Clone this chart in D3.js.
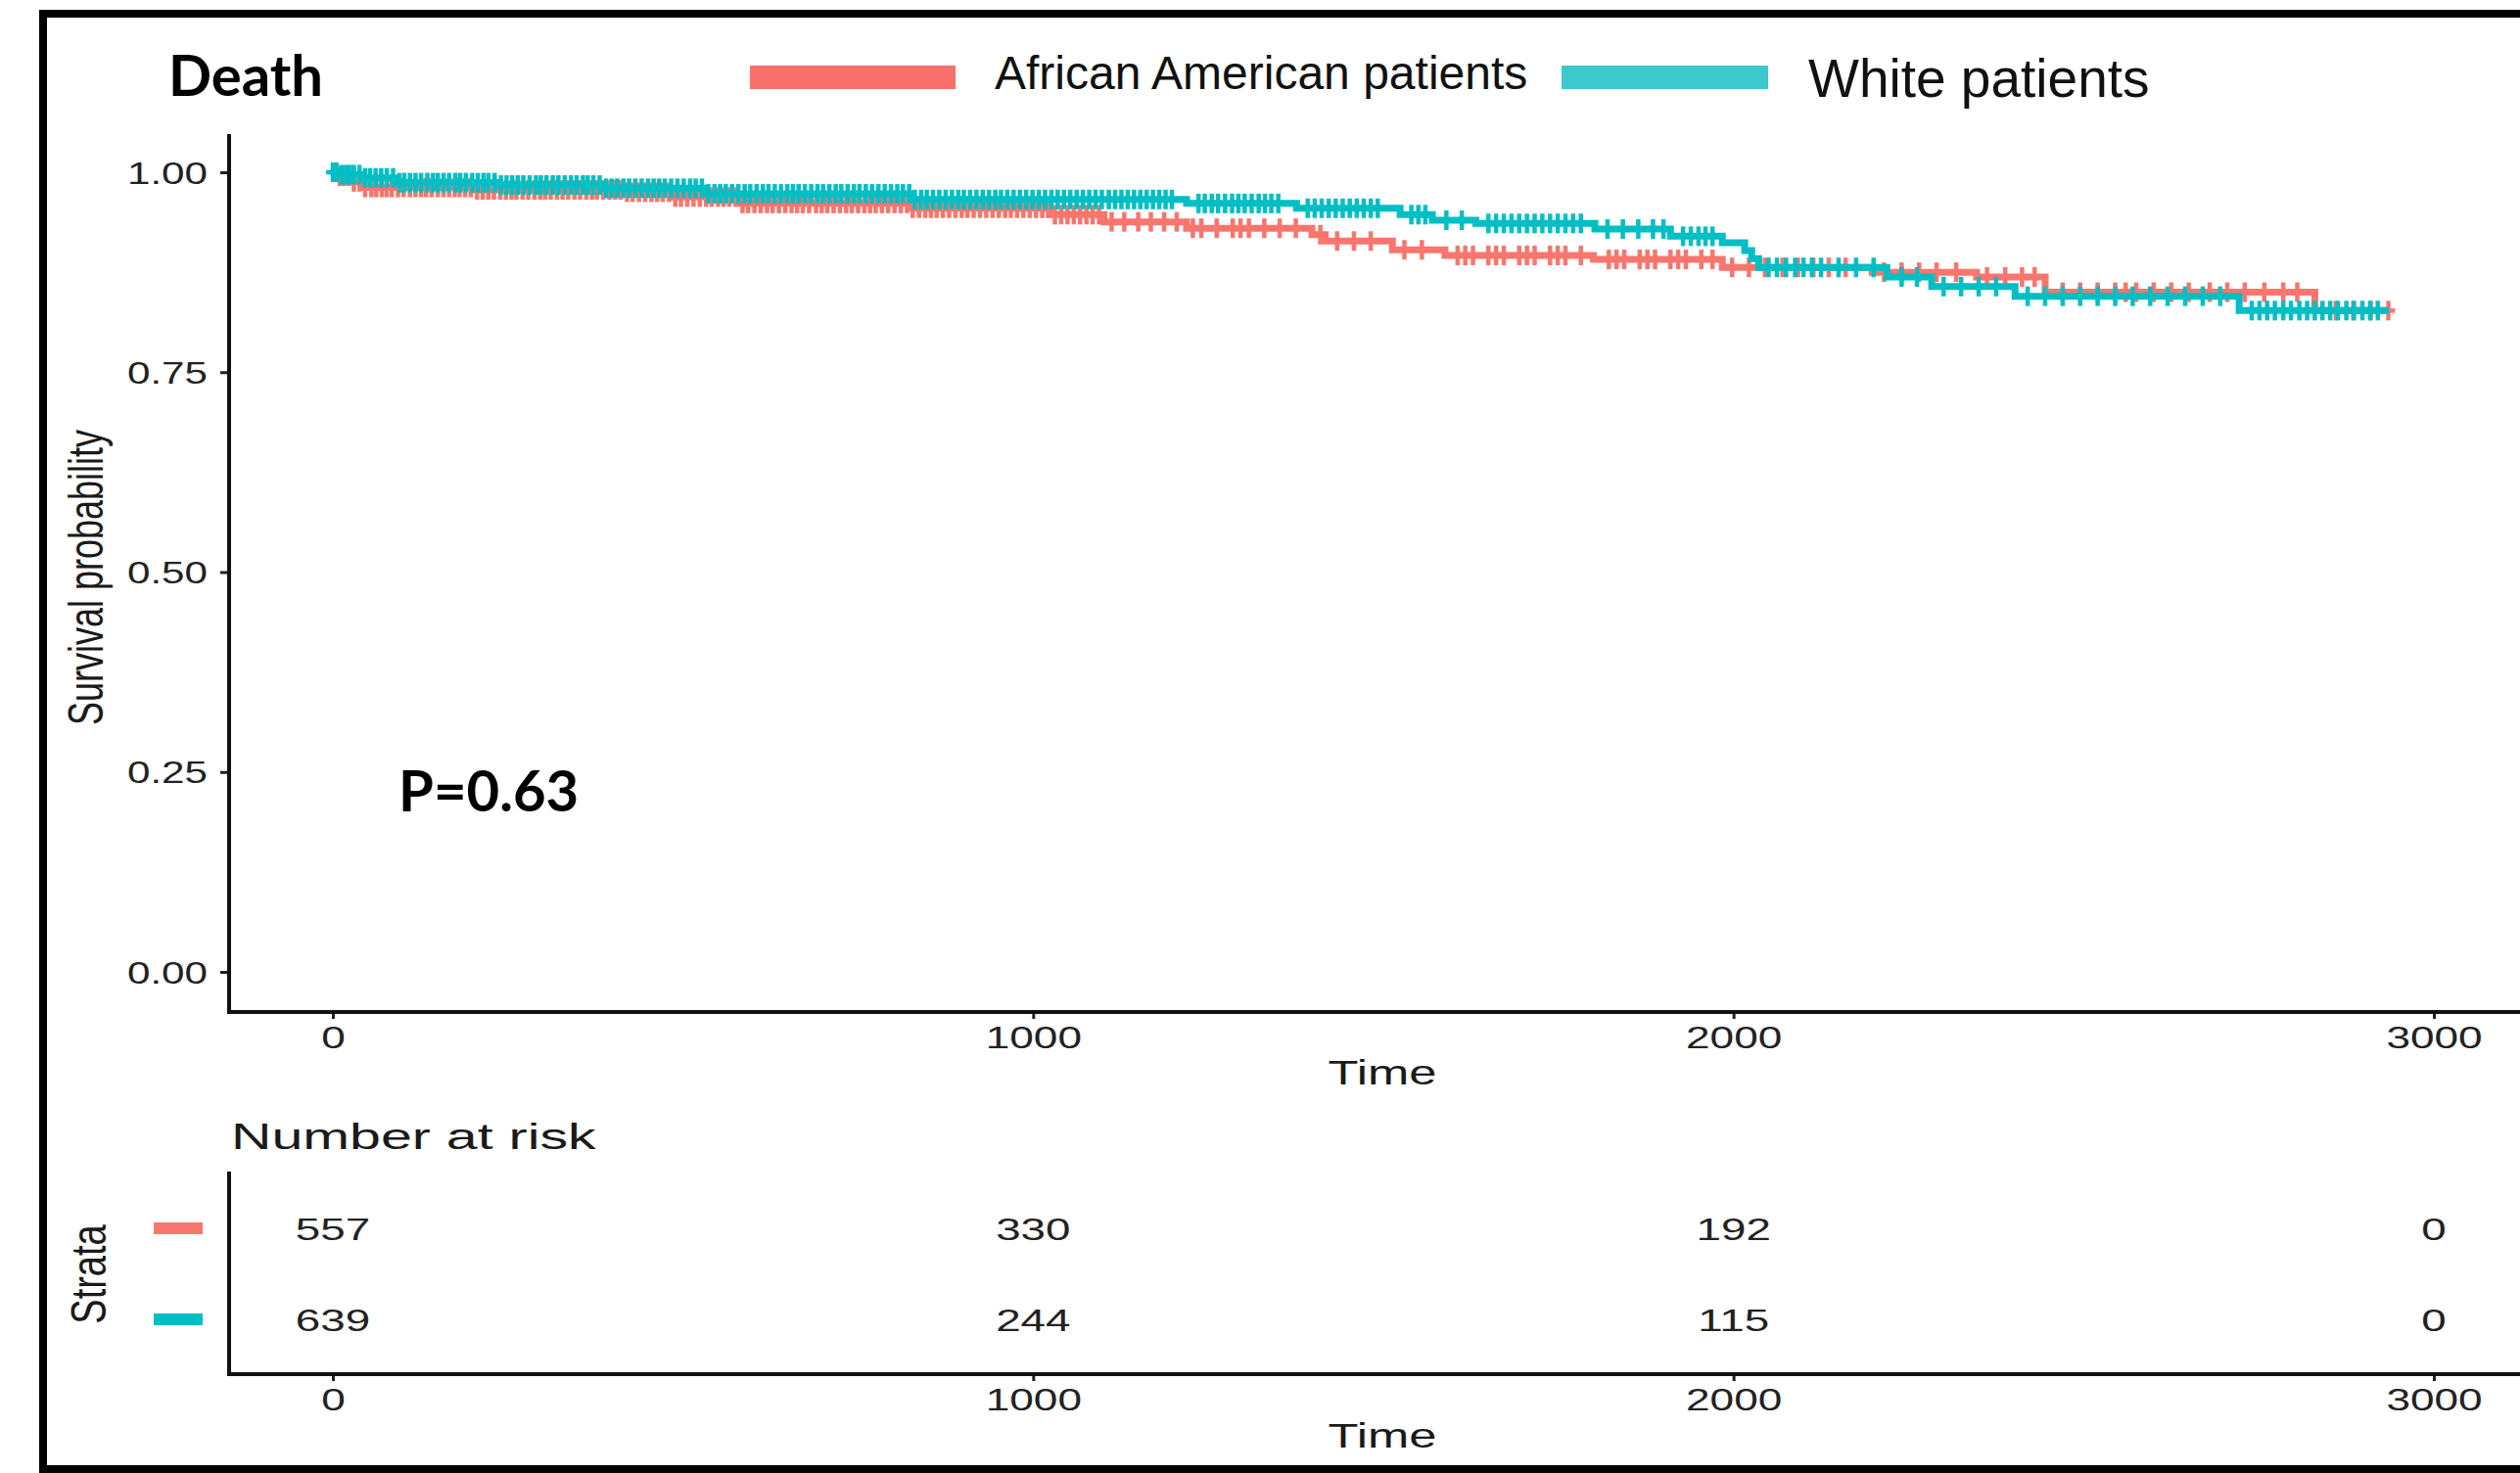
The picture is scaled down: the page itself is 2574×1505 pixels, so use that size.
<!DOCTYPE html>
<html>
<head>
<meta charset="utf-8">
<script src="https://cdn.jsdelivr.net/npm/d3@7"></script>
<style>
  body { margin: 0; background: #fff; overflow: hidden; }
  text { font-family: "Liberation Sans", Arial, sans-serif; fill: #1a1a1a; }
</style>
</head>
<body>
<div id="chart"></div>
<script>
// Kaplan-Meier steps
const aaTime = [0, 10, 25, 45, 200, 420, 484, 582, 826, 1023, 1101, 1219, 1398, 1417, 1513, 1588, 1800, 1984, 2198, 2347, 2445, 2830];
const aaSurv = [1.000, 0.995, 0.988, 0.981, 0.978, 0.975, 0.969, 0.961, 0.955, 0.947, 0.938, 0.930, 0.922, 0.914, 0.903, 0.896, 0.891, 0.881, 0.875, 0.869, 0.850, 0.827];
const aaEnd = 2935;

const whTime = [0, 10, 40, 91, 238, 385, 533, 826, 1219, 1376, 1524, 1570, 1632, 1802, 1910, 1984, 2016, 2026, 2036, 2219, 2283, 2402, 2722];
const whSurv = [1.000, 0.997, 0.993, 0.987, 0.984, 0.980, 0.973, 0.966, 0.961, 0.955, 0.947, 0.940, 0.936, 0.929, 0.920, 0.912, 0.902, 0.892, 0.881, 0.869, 0.857, 0.845, 0.827];
const whEnd = 2936;

// censoring marks (+)
const aaCensor = [4, 10, 16, 22, 30, 38, 46, 55, 62, 70, 77, 84, 93, 101, 110, 118, 126, 133, 141, 150, 158, 166, 174, 181, 189, 197, 206, 214, 222, 230, 239, 247, 255, 262, 271, 279, 288, 296, 303, 311, 320, 328, 336, 345, 353, 362, 370, 377, 386, 395, 403, 411, 420, 428, 437, 446, 455, 463, 471, 480, 489, 497, 506, 515, 524, 533, 541, 550, 558, 566, 575, 585, 593, 602, 611, 620, 628, 637, 646, 655, 663, 671, 680, 690, 698, 706, 715, 724, 733, 741, 750, 759, 767, 775, 784, 793, 802, 811, 820, 828, 837, 846, 854, 862, 871, 880, 889, 898, 906, 915, 924, 933, 942, 951, 960, 968, 977, 986, 995, 1004, 1013, 1022, 1031, 1040, 1049, 1058, 1067, 1076, 1085, 1094, 1112, 1130, 1150, 1168, 1187, 1205, 1228, 1240, 1262, 1285, 1296, 1308, 1330, 1352, 1375, 1410, 1434, 1458, 1482, 1530, 1555, 1606, 1617, 1628, 1650, 1661, 1672, 1694, 1705, 1716, 1738, 1749, 1760, 1782, 1822, 1833, 1844, 1866, 1877, 1888, 1910, 1921, 1932, 1954, 1970, 1998, 2022, 2045, 2070, 2092, 2114, 2136, 2160, 2215, 2240, 2265, 2290, 2318, 2362, 2388, 2412, 2430, 2470, 2495, 2520, 2545, 2560, 2575, 2600, 2625, 2650, 2680, 2705, 2730, 2758, 2785, 2805, 2860, 2885, 2910, 2935];
const whCensor = [0, 5, 12, 18, 24, 30, 38, 46, 53, 61, 69, 77, 86, 95, 102, 110, 118, 126, 135, 143, 150, 158, 166, 175, 182, 190, 199, 207, 215, 222, 231, 240, 248, 256, 264, 272, 281, 290, 297, 305, 314, 322, 331, 340, 348, 357, 364, 372, 381, 390, 398, 406, 415, 423, 432, 441, 450, 458, 466, 474, 483, 492, 501, 510, 518, 527, 536, 545, 553, 561, 570, 579, 588, 596, 605, 614, 622, 631, 640, 649, 657, 665, 674, 683, 692, 700, 709, 718, 726, 735, 744, 752, 761, 770, 779, 788, 797, 806, 814, 823, 831, 840, 848, 857, 866, 875, 884, 893, 901, 910, 919, 928, 937, 946, 954, 963, 972, 981, 990, 999, 1008, 1017, 1026, 1035, 1044, 1053, 1062, 1071, 1080, 1089, 1098, 1108, 1117, 1126, 1135, 1144, 1153, 1162, 1171, 1180, 1189, 1198, 1236, 1245, 1255, 1264, 1274, 1284, 1293, 1302, 1312, 1322, 1331, 1340, 1350, 1392, 1402, 1412, 1422, 1432, 1442, 1452, 1462, 1472, 1482, 1492, 1540, 1550, 1560, 1590, 1612, 1650, 1661, 1672, 1683, 1694, 1705, 1716, 1727, 1738, 1749, 1760, 1771, 1782, 1820, 1842, 1864, 1885, 1900, 1928, 1939, 1950, 1960, 1970, 2050, 2062, 2075, 2088, 2100, 2112, 2125, 2150, 2175, 2200, 2240, 2262, 2300, 2325, 2350, 2375, 2420, 2445, 2470, 2495, 2520, 2545, 2570, 2595, 2620, 2645, 2670, 2695, 2740, 2751, 2762, 2773, 2785, 2796, 2808, 2819, 2830, 2841, 2852, 2863, 2875, 2886, 2898, 2909, 2920];

const riskTimes = [0, 1000, 2000, 3000];
const aaRisk = [557, 330, 192, 0];
const whRisk = [639, 244, 115, 0];

const xTicks = [0, 1000, 2000, 3000];
const yTicks = [0, 0.25, 0.5, 0.75, 1];
const legendLabels = ['African American patients', 'White patients'];

const red = '#F8766D';
const teal = '#00BFC4';

const width = 2574;
const height = 1505;

const svg = d3.select('#chart')
  .append('svg')
  .attr('width', width)
  .attr('height', height);

svg.append('rect').attr('width', width).attr('height', height).attr('fill', '#fff');

// outer frame (right side runs off the picture)
svg.append('rect')
  .attr('x', 44).attr('y', 14)
  .attr('width', 2650).attr('height', 1487)
  .attr('fill', 'none')
  .attr('stroke', '#000')
  .attr('stroke-width', 8);

const x = d3.scaleLinear().domain([0, 3000]).range([340, 2486]);
const y = d3.scaleLinear().domain([0, 1]).range([993, 176]);

// title, legend, p-value
svg.append('text')
  .attr('x', 172).attr('y', 98)
  .style('font-family', 'Lato, sans-serif')
  .style('font-weight', 700)
  .style('font-size', '58px')
  .style('fill', '#000')
  .text('Death');

svg.append('rect').attr('x', 766).attr('y', 67).attr('width', 210).attr('height', 24).attr('fill', '#F8716A');
svg.append('text')
  .attr('x', 1016).attr('y', 91)
  .style('font-size', '48px')
  .style('fill', '#111')
  .text(legendLabels[0]);

svg.append('rect').attr('x', 1595).attr('y', 67).attr('width', 211).attr('height', 24).attr('fill', '#3CC8CC');
svg.append('text')
  .attr('x', 1847).attr('y', 99)
  .style('font-size', '55px')
  .style('fill', '#111')
  .text(legendLabels[1]);

svg.append('text')
  .attr('x', 407).attr('y', 829)
  .style('font-family', 'Lato, sans-serif')
  .style('font-weight', 700)
  .style('font-size', '58px')
  .style('fill', '#000')
  .text('P=0.63');

// main panel axes
const yAxis = svg.append('g')
  .attr('transform', 'translate(234,0)')
  .call(d3.axisLeft(y).tickValues(yTicks).tickSize(9).tickSizeOuter(0).tickFormat(d3.format('.2f')));
yAxis.select('.domain').remove();
yAxis.selectAll('.tick line').attr('stroke', '#222').attr('stroke-width', 3);
yAxis.selectAll('.tick text')
  .attr('x', 0).attr('dy', '0.36em')
  .attr('transform', 'translate(-22,0) scale(1.36,1)')
  .style('font-size', '31px')
  .style('fill', '#222');
svg.append('line')
  .attr('x1', 234).attr('x2', 234).attr('y1', 137).attr('y2', 1036)
  .attr('stroke', '#111').attr('stroke-width', 4);

function bottomAxis(yPos) {
  const g = svg.append('g')
    .attr('transform', `translate(0,${yPos})`)
    .call(d3.axisBottom(x).tickValues(xTicks).tickSize(7).tickFormat(d3.format('d')));
  g.select('.domain').remove();
  g.selectAll('.tick line').attr('stroke', '#222').attr('stroke-width', 3);
  g.selectAll('.tick text')
    .attr('y', 0).attr('dy', 0)
    .attr('transform', 'translate(0,37) scale(1.38,1)')
    .style('font-size', '32px')
    .style('fill', '#222');
  svg.append('line')
    .attr('x1', 232).attr('x2', width).attr('y1', yPos).attr('y2', yPos)
    .attr('stroke', '#111').attr('stroke-width', 4);
}
bottomAxis(1034);

function stretchedText(tx, ty, sx, size, label, rotate) {
  svg.append('text')
    .attr('transform', `translate(${tx},${ty}) scale(${sx},1)` + (rotate ? ' rotate(-90)' : ''))
    .attr('text-anchor', 'middle')
    .style('font-size', size + 'px')
    .text(label);
}
stretchedText(1412, 1108, 1.45, 35, 'Time');
stretchedText(105, 590, 1.4, 36, 'Survival probability', true);

// survival curves
const line = d3.line()
  .x(d => x(d[0]))
  .y(d => y(d[1]))
  .curve(d3.curveStepAfter);

function drawGroup(times, surv, endTime, censor, color) {
  const pts = times.map((t, i) => [t, surv[i]]);
  pts.push([endTime, surv[surv.length - 1]]);
  svg.append('path')
    .datum(pts)
    .attr('d', line)
    .attr('fill', 'none')
    .attr('stroke', color)
    .attr('stroke-width', 7);

  const bis = d3.bisector(d => d).right;
  const marks = svg.append('g');
  censor.forEach(t => {
    const s = surv[Math.max(0, bis(times, t) - 1)];
    const cx = x(t), cy = y(s);
    marks.append('line').attr('x1', cx).attr('x2', cx).attr('y1', cy - 10).attr('y2', cy + 10)
      .attr('stroke', color).attr('stroke-width', 4.5);
    marks.append('line').attr('x1', cx - 7).attr('x2', cx + 7).attr('y1', cy).attr('y2', cy)
      .attr('stroke', color).attr('stroke-width', 4.5);
  });
}
drawGroup(aaTime, aaSurv, aaEnd, aaCensor, red);
drawGroup(whTime, whSurv, whEnd, whCensor, teal);

// risk table
svg.append('text')
  .attr('transform', 'translate(236,1174) scale(1.55,1)')
  .style('font-size', '37px')
  .text('Number at risk');

const rowY = d3.scalePoint().domain(['aa', 'wh']).range([1255, 1348]);

svg.append('line')
  .attr('x1', 234).attr('x2', 234).attr('y1', 1197).attr('y2', 1406)
  .attr('stroke', '#111').attr('stroke-width', 4);
bottomAxis(1404);
stretchedText(1412, 1479, 1.45, 35, 'Time');
stretchedText(108, 1302, 1.3, 38, 'Strata', true);

[['aa', aaRisk, red], ['wh', whRisk, teal]].forEach(([key, vals, color]) => {
  svg.append('rect')
    .attr('x', 157).attr('y', rowY(key) - 6)
    .attr('width', 50).attr('height', 12)
    .attr('fill', color);
  riskTimes.forEach((t, i) => {
    svg.append('text')
      .attr('transform', `translate(${x(t)},${rowY(key) + 11.5}) scale(1.43,1)`)
      .attr('text-anchor', 'middle')
      .style('font-size', '32px')
      .style('fill', '#222')
      .text(vals[i]);
  });
});
</script>
</body>
</html>
